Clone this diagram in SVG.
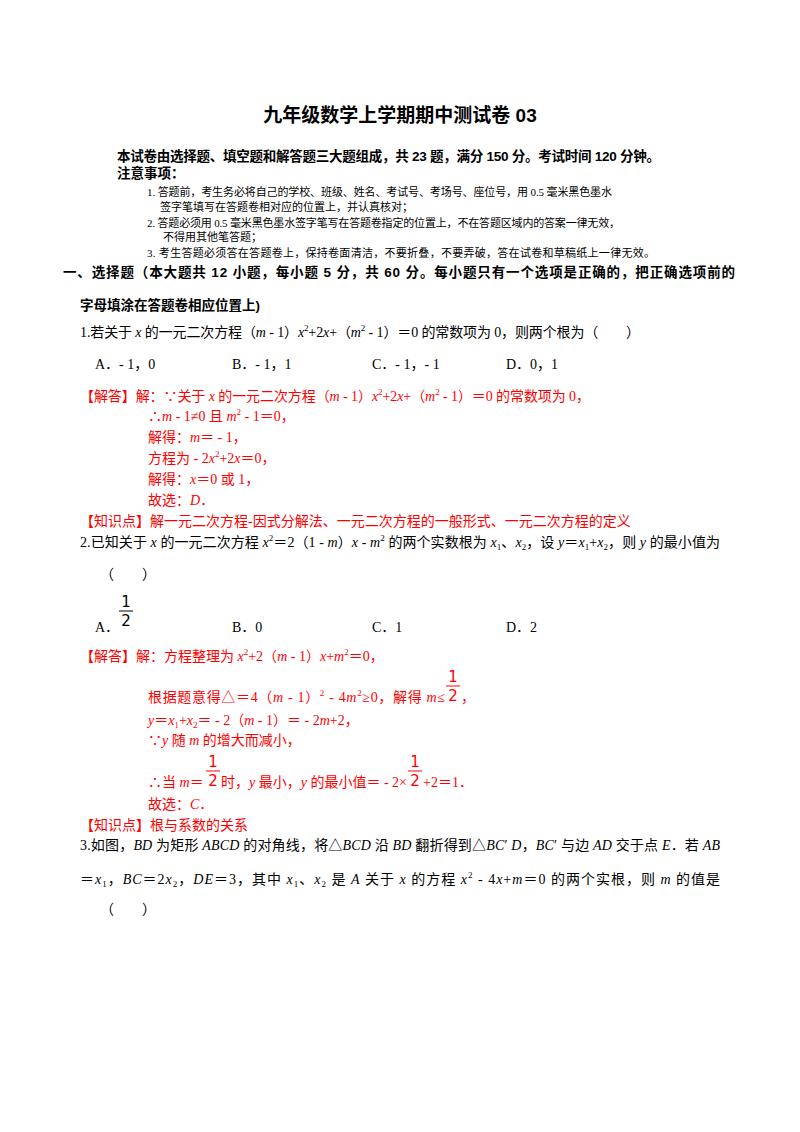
<svg xmlns="http://www.w3.org/2000/svg" width="800" height="1132" viewBox="0 0 800 1132">
<style>
text{font-family:"Liberation Serif","Noto Sans CJK SC",serif;font-size:14px;fill:#000}
.t{font-family:"Liberation Sans","Noto Sans CJK SC",sans-serif;font-weight:bold;font-size:19px}
.h{font-family:"Liberation Sans","Noto Sans CJK SC",sans-serif;font-weight:bold;font-size:13.5px}
.n{font-size:11px}
.r{fill:#f00}
.i{font-style:italic}
.s{font-size:9px}
.f{font-family:"DejaVu Sans",sans-serif;font-size:15px}
</style>
<rect width="800" height="1132" fill="#fff"/>
<g id="header">
<text class="t" x="400" y="122" text-anchor="middle">九年级数学上学期期中测试卷 03</text>
<text class="h" x="117" y="161" textLength="543" lengthAdjust="spacing">本试卷由选择题、填空题和解答题三大题组成，共 23 题，满分 150 分。考试时间 120 分钟。</text>
<text class="h" x="117" y="178">注意事项：</text>
<text class="n" x="147" y="196" textLength="465" lengthAdjust="spacing">1. 答题前，考生务必将自己的学校、班级、姓名、考试号、考场号、座位号，用 0.5 毫米黑色墨水</text>
<text class="n" x="160" y="211">签字笔填写在答题卷相对应的位置上，并认真核对；</text>
<text class="n" x="147" y="227" textLength="473" lengthAdjust="spacing">2. 答题必须用 0.5 毫米黑色墨水签字笔写在答题卷指定的位置上，不在答题区域内的答案一律无效，</text>
<text class="n" x="163" y="241">不得用其他笔答题；</text>
<text class="n" x="147" y="257" textLength="508" lengthAdjust="spacing">3. 考生答题必须答在答题卷上，保持卷面清洁，不要折叠，不要弄破，答在试卷和草稿纸上一律无效。</text>
<text class="h" x="63" y="277" font-size="14.5" textLength="672" lengthAdjust="spacing">一、选择题（本大题共 12 小题，每小题 5 分，共 60 分。每小题只有一个选项是正确的，把正确选项前的</text>
<text class="h" x="80" y="310" font-size="14.5">字母填涂在答题卷相应位置上)</text>
</g>
<g id="q1">
<text x="80" y="337" textLength="560" lengthAdjust="spacing">1.若关于 <tspan class="i">x</tspan> 的一元二次方程（<tspan class="i">m</tspan> - 1）<tspan class="i">x</tspan><tspan class="s" dy="-6">2</tspan><tspan dy="6">+2</tspan><tspan class="i">x</tspan>+（<tspan class="i">m</tspan><tspan class="s" dy="-6">2</tspan><tspan dy="6"> - 1）＝0 的常数项为 0，则两个根为（　　）</tspan></text>
<text x="95" y="369">A．- 1，0</text>
<text x="232" y="369">B．- 1，1</text>
<text x="372" y="369">C．- 1，- 1</text>
<text x="506" y="369">D．0，1</text>
<text class="r" x="80" y="401" textLength="510" lengthAdjust="spacing">【解答】解：∵关于 <tspan class="i r">x</tspan> 的一元二次方程（<tspan class="i r">m</tspan> - 1）<tspan class="i r">x</tspan><tspan class="s r" dy="-6">2</tspan><tspan dy="6">+2</tspan><tspan class="i r">x</tspan>+（<tspan class="i r">m</tspan><tspan class="s r" dy="-6">2</tspan><tspan dy="6"> - 1）＝0 的常数项为 0，</tspan></text>
<text class="r" x="148" y="421">∴<tspan class="i r">m</tspan> - 1≠0 且 <tspan class="i r">m</tspan><tspan class="s r" dy="-6">2</tspan><tspan dy="6"> - 1＝0，</tspan></text>
<text class="r" x="148" y="442">解得：<tspan class="i r">m</tspan>＝ - 1，</text>
<text class="r" x="148" y="463">方程为 - 2<tspan class="i r">x</tspan><tspan class="s r" dy="-6">2</tspan><tspan dy="6">+2</tspan><tspan class="i r">x</tspan>＝0，</text>
<text class="r" x="148" y="484">解得：<tspan class="i r">x</tspan>＝0 或 1，</text>
<text class="r" x="148" y="505">故选：<tspan class="i r">D</tspan>．</text>
<text class="r" x="80" y="526">【知识点】解一元二次方程-因式分解法、一元二次方程的一般形式、一元二次方程的定义</text>
</g>
<g id="q2">
<text x="80" y="547" textLength="640" lengthAdjust="spacing">2.已知关于 <tspan class="i">x</tspan> 的一元二次方程 <tspan class="i">x</tspan><tspan class="s" dy="-6">2</tspan><tspan dy="6">＝2（1 - </tspan><tspan class="i">m</tspan>）<tspan class="i">x</tspan> - <tspan class="i">m</tspan><tspan class="s" dy="-6">2</tspan><tspan dy="6"> 的两个实数根为 </tspan><tspan class="i">x</tspan><tspan class="s" dy="3">1</tspan><tspan dy="-3">、</tspan><tspan class="i">x</tspan><tspan class="s" dy="3">2</tspan><tspan dy="-3">，设 </tspan><tspan class="i">y</tspan>＝<tspan class="i">x</tspan><tspan class="s" dy="3">1</tspan><tspan dy="-3">+</tspan><tspan class="i">x</tspan><tspan class="s" dy="3">2</tspan><tspan dy="-3">，则 </tspan><tspan class="i">y</tspan> 的最小值为</text>
<text x="100" y="579">（　　）</text>
<text x="95" y="632">A．</text>
<text class="f" x="126" y="607" text-anchor="middle">1</text>
<line x1="119" y1="611" x2="133" y2="611" stroke="#000"/>
<text class="f" x="126" y="626" text-anchor="middle">2</text>
<text x="232" y="632">B．0</text>
<text x="372" y="632">C．1</text>
<text x="506" y="632">D．2</text>
<text class="r" x="80" y="661">【解答】解：方程整理为 <tspan class="i r">x</tspan><tspan class="s r" dy="-6">2</tspan><tspan dy="6">+2（</tspan><tspan class="i r">m</tspan> - 1）<tspan class="i r">x</tspan>+<tspan class="i r">m</tspan><tspan class="s r" dy="-6">2</tspan><tspan dy="6">＝0，</tspan></text>
<text class="r" x="148" y="702" textLength="297" lengthAdjust="spacing">根据题意得△＝4（<tspan class="i r">m</tspan> - 1）<tspan class="s r" dy="-6">2</tspan><tspan dy="6"> - 4</tspan><tspan class="i r">m</tspan><tspan class="s r" dy="-6">2</tspan><tspan dy="6">≥0，解得 </tspan><tspan class="i r">m</tspan>≤</text>
<text class="f r" x="453" y="682" text-anchor="middle">1</text>
<line x1="446" y1="686" x2="460" y2="686" stroke="#f00"/>
<text class="f r" x="453" y="701" text-anchor="middle">2</text>
<text class="r" x="461" y="702">，</text>
<text class="r" x="148" y="725"><tspan class="i r">y</tspan>＝<tspan class="i r">x</tspan><tspan class="s r" dy="3">1</tspan><tspan dy="-3">+</tspan><tspan class="i r">x</tspan><tspan class="s r" dy="3">2</tspan><tspan dy="-3">＝ - 2（</tspan><tspan class="i r">m</tspan> - 1）＝ - 2<tspan class="i r">m</tspan>+2，</text>
<text class="r" x="148" y="745">∵<tspan class="i r">y</tspan> 随 <tspan class="i r">m</tspan> 的增大而减小，</text>
<text class="r" x="148" y="787">∴当 <tspan class="i r">m</tspan>＝</text>
<text class="f r" x="213" y="767" text-anchor="middle">1</text>
<line x1="206" y1="771" x2="220" y2="771" stroke="#f00"/>
<text class="f r" x="213" y="786" text-anchor="middle">2</text>
<text class="r" x="221" y="787">时，<tspan class="i r">y</tspan> 最小，<tspan class="i r">y</tspan> 的最小值＝ - 2×</text>
<text class="f r" x="415" y="767" text-anchor="middle">1</text>
<line x1="408" y1="771" x2="422" y2="771" stroke="#f00"/>
<text class="f r" x="415" y="786" text-anchor="middle">2</text>
<text class="r" x="423" y="787">+2＝1．</text>
<text class="r" x="148" y="809">故选：<tspan class="i r">C</tspan>．</text>
<text class="r" x="80" y="830">【知识点】根与系数的关系</text>
</g>
<g id="q3">
<text x="80" y="850" textLength="640" lengthAdjust="spacing">3.如图，<tspan class="i">BD</tspan> 为矩形 <tspan class="i">ABCD</tspan> 的对角线，将△<tspan class="i">BCD</tspan> 沿 <tspan class="i">BD</tspan> 翻折得到△<tspan class="i">BC</tspan>′ <tspan class="i">D</tspan>，<tspan class="i">BC</tspan>′ 与边 <tspan class="i">AD</tspan> 交于点 <tspan class="i">E</tspan>．若 <tspan class="i">AB</tspan></text>
<text x="80" y="884" textLength="640" lengthAdjust="spacing">＝<tspan class="i">x</tspan><tspan class="s" dy="3">1</tspan><tspan dy="-3">，</tspan><tspan class="i">BC</tspan>＝2<tspan class="i">x</tspan><tspan class="s" dy="3">2</tspan><tspan dy="-3">，</tspan><tspan class="i">DE</tspan>＝3，其中 <tspan class="i">x</tspan><tspan class="s" dy="3">1</tspan><tspan dy="-3">、</tspan><tspan class="i">x</tspan><tspan class="s" dy="3">2</tspan><tspan dy="-3"> 是 </tspan><tspan class="i">A</tspan> 关于 <tspan class="i">x</tspan> 的方程 <tspan class="i">x</tspan><tspan class="s" dy="-6">2</tspan><tspan dy="6"> - 4</tspan><tspan class="i">x</tspan>+<tspan class="i">m</tspan>＝0 的两个实根，则 <tspan class="i">m</tspan> 的值是</text>
<text x="100" y="914">（　　）</text>
</g>
</svg>
